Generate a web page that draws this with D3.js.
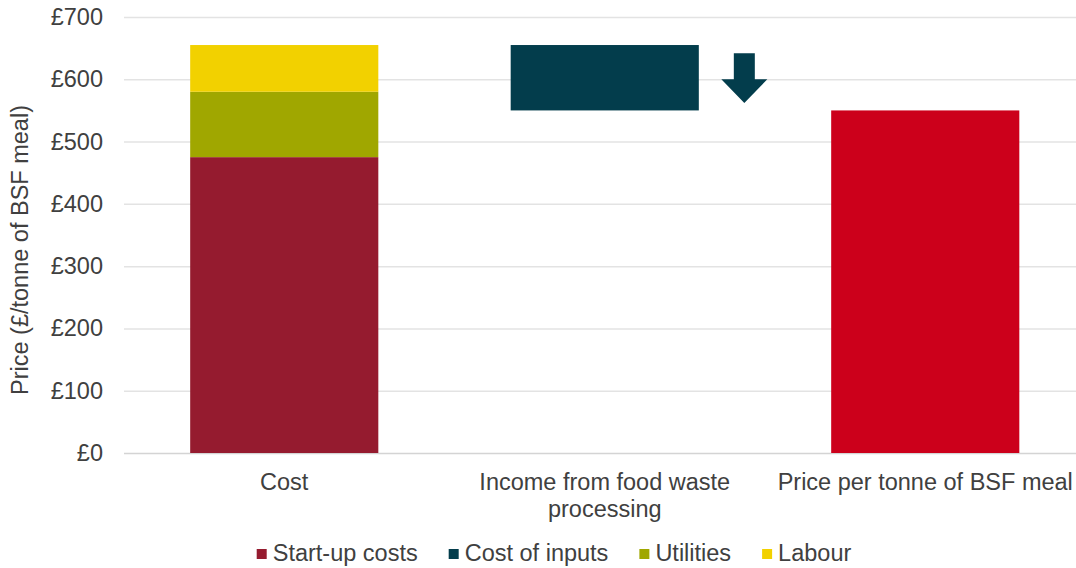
<!DOCTYPE html>
<html>
<head>
<meta charset="utf-8">
<script src="https://cdn.jsdelivr.net/npm/d3@7"></script>
<style>
  html, body { margin: 0; padding: 0; background: #fff; }
  svg { display: block; font-family: "Liberation Sans", Arial, sans-serif; }
</style>
</head>
<body>
<svg id="chart" width="1076" height="568"></svg>
<script>
// Categories along the x axis
const categories = ["Cost", "Income from food waste processing", "Price per tonne of BSF meal"];

// Cost breakdown (£ per tonne of BSF meal), stacked on the "Cost" bar
const startUpCosts = 475;
const utilities = 105;
const labour = 75;

// Income from food waste processing offsets the cost of inputs
const costOfInputs = 105;

// Resulting price per tonne
const pricePerTonne = 550;

// Legend entries and y ticks
const legendLabels = ["Start-up costs", "Cost of inputs", "Utilities", "Labour"];
const yTicks = [0, 100, 200, 300, 400, 500, 600, 700];

const colors = {
  "Start-up costs": "#951b2f",
  "Cost of inputs": "#033d4c",
  "Utilities": "#a0a700",
  "Labour": "#f2d100",
  "Price": "#cc001b"
};

const svg = d3.select("#chart");
const textColor = "#404040";
const fontSize = 23.5;

const x = d3.scaleBand()
  .domain(categories)
  .range([124, 1085.5])
  .paddingInner(0.413)
  .paddingOuter(0.2065);

const y = d3.scaleLinear().domain([0, 700]).range([453, 17]);

// Gridlines
const grid = svg.append("g")
  .attr("transform", `translate(${x.range()[0]},0)`)
  .call(d3.axisLeft(y).tickValues(yTicks).tickSize(-(x.range()[1] - x.range()[0])).tickFormat(""));
grid.select(".domain").remove();
grid.selectAll(".tick line").attr("stroke", "#e3e3e3").attr("stroke-width", 1.5);
grid.selectAll(".tick").filter(d => d === 0).select("line").attr("stroke", "#d4d4d4");

// Y axis labels
const yAxis = svg.append("g")
  .attr("transform", `translate(${x.range()[0]},0)`)
  .call(d3.axisLeft(y).tickValues(yTicks).tickSize(0).tickPadding(21).tickFormat(d => "£" + d));
yAxis.select(".domain").remove();
yAxis.selectAll("text")
  .attr("fill", textColor)
  .style("font-size", fontSize + "px")
  .style("font-family", "'Liberation Sans', Arial, sans-serif");

// Y axis title
svg.append("text")
  .attr("transform", `translate(28,250) rotate(-90)`)
  .attr("text-anchor", "middle")
  .attr("fill", textColor)
  .style("font-size", fontSize + "px")
  .text("Price (£/tonne of BSF meal)");

// Stacked cost bar
const costStack = [
  { key: "Start-up costs", y0: 0, y1: startUpCosts },
  { key: "Utilities", y0: startUpCosts, y1: startUpCosts + utilities },
  { key: "Labour", y0: startUpCosts + utilities, y1: startUpCosts + utilities + labour }
];
svg.append("g").selectAll("rect")
  .data(costStack)
  .join("rect")
  .attr("x", x("Cost"))
  .attr("width", x.bandwidth())
  .attr("y", d => y(d.y1))
  .attr("height", d => y(d.y0) - y(d.y1))
  .attr("fill", d => colors[d.key]);

// Floating income bar (reduction from total cost)
const totalCost = startUpCosts + utilities + labour;
svg.append("rect")
  .attr("x", x(categories[1]))
  .attr("width", x.bandwidth())
  .attr("y", y(totalCost))
  .attr("height", y(totalCost - costOfInputs) - y(totalCost))
  .attr("fill", colors["Cost of inputs"]);

// Price bar
svg.append("rect")
  .attr("x", x(categories[2]))
  .attr("width", x.bandwidth())
  .attr("y", y(pricePerTonne))
  .attr("height", y(0) - y(pricePerTonne))
  .attr("fill", colors["Price"]);

// Down arrow next to the income bar
const ax = x(categories[1]) + x.bandwidth() + 45.5;
const shaftTop = y(642), headTop = y(600), tip = y(562);
const shaftHalf = 10.5, headHalf = 23;
svg.append("path")
  .attr("d", `M${ax - shaftHalf},${shaftTop} L${ax + shaftHalf},${shaftTop} L${ax + shaftHalf},${headTop}
              L${ax + headHalf},${headTop} L${ax},${tip} L${ax - headHalf},${headTop}
              L${ax - shaftHalf},${headTop} Z`)
  .attr("fill", colors["Cost of inputs"]);

// X axis category labels (wrapped)
const maxLabelWidth = 300;
categories.forEach(cat => {
  const t = svg.append("text")
    .attr("text-anchor", "middle")
    .attr("fill", textColor)
    .style("font-size", fontSize + "px");
  const cx = x(cat) + x.bandwidth() / 2;
  const words = cat.split(" ");
  let lines = [], line = [];
  const probe = svg.append("text").style("font-size", fontSize + "px");
  words.forEach(w => {
    const test = line.concat(w).join(" ");
    probe.text(test);
    if (probe.node().getComputedTextLength() > maxLabelWidth && line.length) {
      lines.push(line.join(" "));
      line = [w];
    } else {
      line.push(w);
    }
  });
  lines.push(line.join(" "));
  probe.remove();
  lines.forEach((l, i) => {
    t.append("tspan").attr("x", cx).attr("y", 490 + i * 27).text(l);
  });
});

// Legend
const legend = svg.append("g");
let lx = 0;
legendLabels.forEach(label => {
  const g = legend.append("g").attr("transform", `translate(${lx},0)`);
  g.append("rect").attr("x", 0).attr("y", -12).attr("width", 10).attr("height", 10).attr("fill", colors[label]);
  const txt = g.append("text").attr("x", 16).attr("y", 0).attr("fill", textColor)
    .style("font-size", fontSize + "px").text(label);
  const w = 16 + txt.node().getComputedTextLength();
  lx += w + 31;
});
const legendWidth = lx - 31;
legend.attr("transform", `translate(${554 - legendWidth / 2},561)`);
</script>
</body>
</html>
